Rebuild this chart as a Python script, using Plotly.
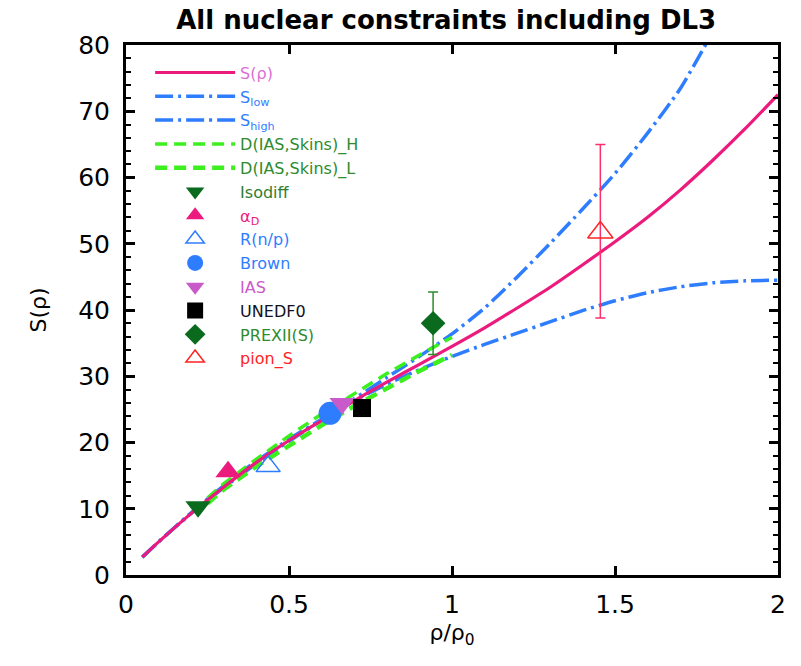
import plotly.graph_objects as go

# ---------------- data ----------------
rho = [0.05, 0.1, 0.2, 0.3, 0.4, 0.5, 0.6, 0.7, 0.8, 0.9, 1.0, 1.1, 1.2, 1.3, 1.4, 1.5, 1.6, 1.7, 1.8, 1.9, 2.0]
S_mid = [2.7, 5.0, 9.3, 13.3, 17.0, 20.3, 23.3, 26.3, 29.1, 31.8, 34.5, 37.3, 40.3, 43.4, 46.8, 50.3, 54.0, 58.1, 62.6, 67.4, 72.5]
S_low = [2.7, 5.0, 9.4, 13.5, 17.2, 20.5, 23.5, 26.3, 28.8, 31.0, 33.0, 34.8, 36.5, 38.2, 39.9, 41.4, 42.6, 43.5, 44.1, 44.4, 44.5]
rho_high = [0.05, 0.1, 0.2, 0.3, 0.4, 0.5, 0.6, 0.7, 0.8, 0.9, 1.0, 1.1, 1.2, 1.3, 1.4, 1.5, 1.6, 1.7, 1.8]
S_high = [2.7, 5.0, 9.3, 13.2, 16.8, 20.2, 23.4, 26.6, 29.8, 33.0, 36.4, 40.3, 45.0, 50.0, 55.2, 60.6, 66.7, 73.4, 82.0]

rho_D = [0.25, 0.3, 0.4, 0.5, 0.6, 0.7, 0.8, 0.9, 1.0]
D_H = [11.6, 13.8, 17.5, 21.0, 24.3, 27.4, 30.4, 33.2, 35.9]
D_L = [10.8, 12.9, 16.4, 19.6, 22.6, 25.5, 28.2, 30.8, 33.2]

pt_names = ["Isodiff", "alphaD", "Rnp", "Brown", "IAS", "UNEDF0", "PREXII", "pion"]
pt_x = [0.221, 0.313, 0.436, 0.626, 0.663, 0.724, 0.942, 1.455]
pt_y = [10.3, 15.6, 16.4, 24.4, 25.9, 25.2, 38.0, 51.7]
prex_err = [4.7]
pion_err_plus = [13.3]
pion_err_minus = [12.9]

xtick_vals = [0, 0.5, 1, 1.5, 2]
xtick_text = ["0", "0.5", "1", "1.5", "2"]
ytick_vals = [0, 10, 20, 30, 40, 50, 60, 70, 80]

PINK = "#EC1A7C"
BLUE = "#2F7DFF"
GREEN_L = "#3CF01E"
DKGREEN = "#0A6B1E"
ORCHID = "#C95AC9"
RED = "#FF2424"
FONT = "DejaVu Sans, Liberation Sans, Arial, sans-serif"


def lab(text, color):
    return f"<span style='color:{color}'>{text}</span>"


fig = go.Figure()

dashdot = "18px,5px,3px,5px"
# lines (drawn below pink curve)
fig.add_trace(go.Scatter(x=rho, y=S_low, mode="lines", name=lab("S<sub>low</sub>", BLUE), legendrank=2,
                         line=dict(color=BLUE, width=3.5, dash=dashdot, shape="spline", smoothing=0.6)))
fig.add_trace(go.Scatter(x=rho_high, y=S_high, mode="lines", name=lab("S<sub>high</sub>", BLUE), legendrank=3,
                         line=dict(color=BLUE, width=3.5, dash=dashdot, shape="spline", smoothing=0.6)))
fig.add_trace(go.Scatter(x=rho_D, y=D_H, mode="lines", name=lab("D(IAS,Skins)_H", "#2E8B2E"), legendrank=4,
                         line=dict(color=GREEN_L, width=3.5, dash="12px,7px")))
fig.add_trace(go.Scatter(x=rho_D, y=D_L, mode="lines", name=lab("D(IAS,Skins)_L", "#2E8B2E"), legendrank=5,
                         line=dict(color=GREEN_L, width=4.5, dash="12px,7px")))
fig.add_trace(go.Scatter(x=rho, y=S_mid, mode="lines", name=lab("S(ρ)", "#DA70D6"), legendrank=1,
                         line=dict(color=PINK, width=3.2, shape="spline", smoothing=0.6)))

# points
fig.add_trace(go.Scatter(x=[pt_x[0]], y=[pt_y[0]], mode="markers", name=lab("Isodiff", "#2E7D32"), legendrank=6,
                         marker=dict(symbol="triangle-down", size=22, color=DKGREEN)))
fig.add_trace(go.Scatter(x=[pt_x[1]], y=[pt_y[1]], mode="markers", name=lab("α<sub>D</sub>", PINK), legendrank=7,
                         marker=dict(symbol="triangle-up", size=22, color=PINK)))
fig.add_trace(go.Scatter(x=[pt_x[2]], y=[pt_y[2]], mode="markers", name=lab("R(n/p)", BLUE), legendrank=8,
                         marker=dict(symbol="triangle-up-open", size=21, color=BLUE, line=dict(width=1.5))))
fig.add_trace(go.Scatter(x=[pt_x[3]], y=[pt_y[3]], mode="markers", name=lab("Brown", BLUE), legendrank=9,
                         marker=dict(symbol="circle", size=23, color=BLUE)))
fig.add_trace(go.Scatter(x=[pt_x[4]], y=[pt_y[4]], mode="markers", name=lab("IAS", ORCHID), legendrank=10,
                         marker=dict(symbol="triangle-down", size=22, color=ORCHID)))
fig.add_trace(go.Scatter(x=[pt_x[5]], y=[pt_y[5]], mode="markers", name=lab("UNEDF0", "#111122"), legendrank=11,
                         marker=dict(symbol="square", size=18, color="black")))
fig.add_trace(go.Scatter(x=[pt_x[6]], y=[pt_y[6]], mode="markers", name=lab("PREXII(S)", "#2E8B2E"), legendrank=12,
                         marker=dict(symbol="diamond", size=19, color=DKGREEN),
                         error_y=dict(type="data", array=prex_err, color="#2E8B2E", thickness=1.5, width=5)))
fig.add_trace(go.Scatter(x=[pt_x[7]], y=[pt_y[7]], mode="markers", name=lab("pion_S", RED), legendrank=13,
                         marker=dict(symbol="triangle-up-open", size=22, color=RED, line=dict(width=1.5)),
                         error_y=dict(type="data", array=pion_err_plus, arrayminus=pion_err_minus,
                                      color="#FF2D6A", thickness=1.5, width=5)))

axis_common = dict(showline=True, linewidth=3, linecolor="black", mirror="ticks",
                   ticks="inside", tickwidth=3, tickcolor="black", ticklen=9,
                   showgrid=False, zeroline=False,
                   tickfont=dict(family=FONT, size=25, color="black"))

fig.update_xaxes(range=[0, 2], tickvals=xtick_vals, ticktext=xtick_text,
                 ticklabelstandoff=5,
                 title=dict(text="ρ/ρ<sub>0</sub>", font=dict(family=FONT, size=22, color="black"), standoff=7),
                 **axis_common)
fig.update_yaxes(range=[0, 80], tickvals=ytick_vals,
                 ticklabelstandoff=8,
                 minor=dict(dtick=2, ticks="inside", ticklen=5, tickwidth=2, tickcolor="black", showgrid=False),
                 title=dict(text="S(ρ)", font=dict(family=FONT, size=22, color="black"), standoff=26),
                 **axis_common)

fig.update_layout(
    width=801, height=666, autosize=False,
    margin=dict(l=126, r=23, t=45, b=91),
    paper_bgcolor="white", plot_bgcolor="white",
    title=dict(text="<b>All nuclear constraints including DL3</b>", x=0.557, xanchor="center",
               y=0.97, yanchor="middle", yref="container",
               font=dict(family=FONT, size=26, color="black")),
    legend=dict(x=0.037, y=0.98, xanchor="left", yanchor="top", bgcolor="rgba(0,0,0,0)",
                font=dict(family=FONT, size=16), tracegroupgap=0, itemwidth=80),
    showlegend=True,
)

fig.write_html("out.html")
